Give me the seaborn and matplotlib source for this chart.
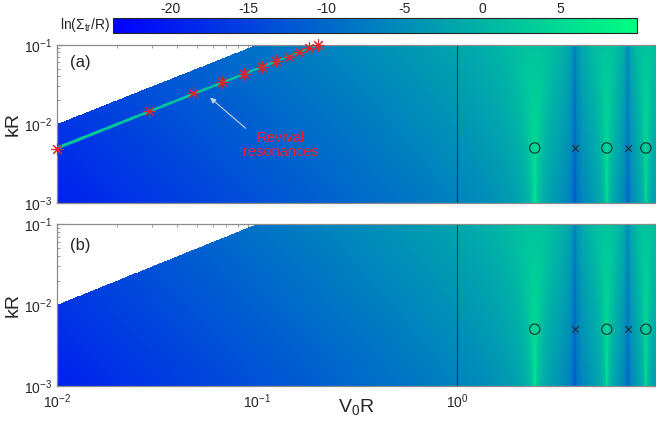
import numpy as np
import pandas as pd
import seaborn as sns
import matplotlib
matplotlib.use("Agg")
import matplotlib.pyplot as plt
from matplotlib.ticker import NullFormatter

# values
circle_v = [2.45, 5.62, 8.81]          # bright resonances (o markers)
cross_v = [3.89, 7.16]                 # dark lines (x markers)
marker_k = [0.005, 0.005, 0.005]
star_v = [0.010, 0.029, 0.048, 0.067, 0.086, 0.106, 0.125, 0.144, 0.163, 0.182, 0.201]
star_k = [0.0049, 0.0146, 0.0244, 0.0336, 0.0431, 0.0528, 0.0623, 0.0706, 0.0809, 0.0908, 0.100]
cbar_ticks = [-20, -15, -10, -5, 0, 5]
vmin, vmax = -23.7, 9.9
v_range = (0.01, 9.9)
k_range = (0.001, 0.1)

# level of the map (estimated from colours)
C, A, p, q_dip, eta, w_rev = 6.3, 0.665, 1.35, 1.0, 9.4e-4, 0.006


def field(V, K, revival):
    X = np.ones_like(V)
    for x in cross_v:
        X = X * (1 - V**2 / x**2)
    O = np.ones_like(V)
    for o in circle_v:
        O = O * (1 - V**2 / o**2)
    small = C * K * (V / 2) ** (2 * p) * (X**2 + eta**2) ** q_dip / np.abs(O) ** (2 * p)
    T2 = small * K / A
    S = (A / K) * T2 / (1 + T2)
    if revival:
        slope = np.median(np.array(star_k) / np.array(star_v))
        d = np.log10(K / (V * slope))
        S = S + (A / K) * np.exp(-(d / w_rev) ** 2)
    L = np.log(S)
    L[K > V] = np.nan
    return L


sns.set_style("ticks")
plt.rcParams["font.family"] = ["Liberation Sans", "DejaVu Sans"]
plt.rcParams["mathtext.fontset"] = "custom"
plt.rcParams["mathtext.rm"] = "Liberation Sans"
plt.rcParams["mathtext.it"] = "Liberation Sans:italic"
plt.rcParams["mathtext.default"] = "regular"
plt.rcParams["axes.unicode_minus"] = False

v = np.logspace(np.log10(v_range[0]), np.log10(v_range[1]), 1600)
k = np.logspace(np.log10(k_range[0]), np.log10(k_range[1]), 500)
VV, KK = np.meshgrid(v, k)

fig = plt.figure(figsize=(6.56, 4.22), dpi=100)
ax_a = fig.add_axes([0.0869, 0.518, 0.9131, 0.376])
ax_b = fig.add_axes([0.0869, 0.086, 0.9131, 0.383])
cax = fig.add_axes([0.1718, 0.921, 0.799, 0.0355])

edge = "#8c8c8c"
with np.errstate(all="ignore"):
    for ax, rev, tag in [(ax_a, True, "(a)"), (ax_b, False, "(b)")]:
        ax.set_xscale("log")
        ax.set_yscale("log")
        mesh = ax.pcolormesh(v, k, field(VV, KK, rev), cmap="winter",
                             vmin=vmin, vmax=vmax, shading="nearest",
                             rasterized=True)
        ax.axvline(1.0, color="#1c3b40", lw=0.8)

        pts = pd.DataFrame({"V0R": circle_v, "kR": marker_k})
        sns.scatterplot(data=pts, x="V0R", y="kR", ax=ax, marker="o", s=55,
                        facecolor="none", edgecolor="#1e2e2e", linewidth=0.8,
                        zorder=5, legend=False)
        xs = pd.DataFrame({"V0R": cross_v, "kR": marker_k[:2]})
        sns.scatterplot(data=xs, x="V0R", y="kR", ax=ax, marker="x", s=22,
                        color="#1e2e2e", linewidth=0.8, zorder=5, legend=False)

        ax.set_xlim(*v_range)
        ax.set_ylim(*k_range)
        ax.set_xlabel("")
        ax.set_ylabel("kR", fontsize=14, labelpad=2)
        ax.tick_params(which="both", direction="in", top=True, right=True,
                       color=edge, labelsize=10)
        ax.tick_params(which="major", length=5)
        ax.tick_params(which="minor", length=2.5)
        ax.tick_params(axis="x", pad=5)
        ax.xaxis.set_minor_formatter(NullFormatter())
        ax.yaxis.set_minor_formatter(NullFormatter())
        for s in ax.spines.values():
            s.set_color(edge)
            s.set_linewidth(0.9)
        ax.text(0.021, 0.885 if rev else 0.87, tag, transform=ax.transAxes,
                fontsize=12, va="center", ha="left")

# revival resonances in panel (a)
stars = pd.DataFrame({"V0R": star_v, "kR": star_k})
sns.scatterplot(data=stars, x="V0R", y="kR", ax=ax_a, marker=(8, 2, 0), s=70,
                color="#d8262e", linewidth=0.8, zorder=6, clip_on=False,
                legend=False)
ax_a.set_xlabel("")
ax_a.set_ylabel("kR", fontsize=14, labelpad=2)
ax_a.annotate("", xy=(0.0569, 0.0227), xytext=(0.0899, 0.0084),
              arrowprops=dict(arrowstyle="-|>", color="#c6d2e6", lw=0.8,
                              mutation_scale=8))
ax_a.text(0.132, 0.0054, "Revival\nresonances", color="#ff1a2e", fontsize=10.5,
          ha="center", va="center", linespacing=1.0, zorder=7)
ax_a.tick_params(labelbottom=False)

ax_b.set_xlabel("")
fig.text(0.543, 0.036, "V$_0$R", fontsize=14, ha="center", va="center")

cb = fig.colorbar(mesh, cax=cax, orientation="horizontal")
cb.set_ticks(cbar_ticks)
cax.tick_params(direction="in", top=True, bottom=True, labeltop=True,
                labelbottom=False, length=3, labelsize=10, pad=2)
cb.outline.set_linewidth(0.8)
fig.text(0.168, 0.94, "ln(\u03a3$_{tr}$/R)", fontsize=10, ha="right", va="center")

fig.savefig("out.png", dpi=100)
